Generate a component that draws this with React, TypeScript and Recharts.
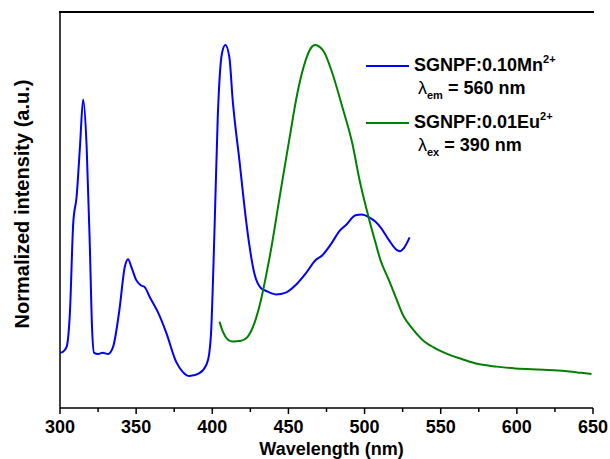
import React from 'react';
import { LineChart, Line, XAxis, YAxis, Legend } from 'recharts';

// excitation spectrum (monitored at 560 nm)
const mnWavelength = [
  300, 302, 304.4, 306.5, 308.7, 310.9, 313.1, 315.2, 317.5, 319.6, 321.1, 322.4, 325.1, 328, 331.6,
  334.9, 339, 342.5, 344.7, 346.9, 350, 353, 355.6, 358.9, 364.3, 369.8, 376.3, 380.7, 385, 391.6,
  396, 398, 399.2, 401.4, 403.6, 406.4, 408.6, 411.2, 413.4, 417.8, 422.1, 424.3, 427.6, 432, 435.2,
  441.8, 448.3, 454.8, 461.4, 467.9, 472.3, 478.8, 483.2, 488, 494.1, 498, 502.8, 507.2, 511, 515.9,
  521.3, 523.5, 525.7, 529.6,
];
const mnIntensity = [
  0.152, 0.155, 0.169, 0.262, 0.51, 0.582, 0.719, 0.85, 0.719, 0.444, 0.215, 0.152, 0.149, 0.152, 0.149,
  0.169, 0.27, 0.388, 0.41, 0.388, 0.353, 0.338, 0.333, 0.306, 0.264, 0.207, 0.127, 0.099, 0.088, 0.096,
  0.118, 0.15, 0.207, 0.482, 0.802, 0.978, 1.0, 0.967, 0.848, 0.683, 0.52, 0.45, 0.371, 0.33, 0.323,
  0.313, 0.318, 0.339, 0.371, 0.408, 0.421, 0.457, 0.486, 0.505, 0.531, 0.533, 0.526, 0.513, 0.495, 0.463,
  0.435, 0.432, 0.44, 0.47,
];

// emission spectrum (excited at 390 nm)
const euWavelength = [
  404.7, 407, 410.1, 413.4, 418.9, 423.2, 427.6, 432, 435.2, 438.5, 445, 450.5, 455.9, 461.4, 464.5,
  467.5, 470.5, 473.4, 478.8, 485.4, 491.9, 496.7, 502.8, 507.2, 510.4, 515.9, 520.3, 525.7, 531.1,
  537.7, 545.3, 553, 563.8, 574.8, 586.7, 598.8, 609.7, 620.6, 631.5, 642.4, 649,
];
const euIntensity = [
  0.238, 0.21, 0.189, 0.183, 0.185, 0.196, 0.233, 0.298, 0.362, 0.435, 0.601, 0.738, 0.868, 0.959, 0.99,
  1.0, 0.995, 0.981, 0.923, 0.829, 0.73, 0.628, 0.523, 0.455, 0.408, 0.353, 0.307, 0.252, 0.22,
  0.189, 0.167, 0.151, 0.135, 0.121, 0.114, 0.109, 0.107, 0.105, 0.102, 0.097, 0.094,
];

const xTicks = [300, 325, 350, 375, 400, 425, 450, 475, 500, 525, 550, 575, 600, 625, 650];
const yMax = 1.091;

const seriesNames = ['SGNPF:0.10Mn', 'SGNPF:0.01Eu'];
const seriesSup = ['2+', '2+'];
const seriesSub = ['em', 'ex'];
const seriesNote = ['= 560 nm', '= 390 nm'];
const seriesColors = ['#0000ff', '#008000'];

const mnData = mnWavelength.map((wl, i) => ({ wl, v: mnIntensity[i] }));
const euData = euWavelength.map((wl, i) => ({ wl, v: euIntensity[i] }));

const FONT = '"Liberation Sans", Arial, sans-serif';

const XTick = (props: any) => {
  const { x, y, payload } = props;
  const major = payload.value % 50 === 0;
  return (
    <g>
      <line x1={x} x2={x} y1={y} y2={y + (major ? 6 : 4)} stroke="#000" strokeWidth={1.5} />
      {major && (
        <text x={x} y={y + 25} textAnchor="middle" fontFamily={FONT} fontWeight="bold" fontSize={18} fill="#000">
          {payload.value}
        </text>
      )}
    </g>
  );
};

const LegendBox = () => (
  <div style={{ fontFamily: FONT, fontWeight: 'bold', fontSize: 18, color: '#000' }}>
    {seriesNames.map((name, i) => (
      <div key={name} style={{ height: 57 }}>
        <div style={{ display: 'flex', alignItems: 'center', height: 22, lineHeight: '22px' }}>
          <div style={{ width: 43, height: 2, background: seriesColors[i], marginRight: 5 }} />
          <span>
            {name}
            <span style={{ fontSize: 11, position: 'relative', top: -8 }}>{seriesSup[i]}</span>
          </span>
        </div>
        <div style={{ paddingLeft: 52, height: 35, lineHeight: '22px' }}>
          <span style={{ fontWeight: 'normal' }}>λ</span>
          <span style={{ fontSize: 11, position: 'relative', top: 5 }}>{seriesSub[i]}</span> {seriesNote[i]}
        </div>
      </div>
    ))}
  </div>
);

const axisStyle = { stroke: '#000', strokeWidth: 1.5 };

export default function App() {
  return (
    <div style={{ position: 'absolute', left: 0, top: 0, width: 610, height: 459, background: '#fff' }}>
      <LineChart width={610} height={459} margin={{ top: 0, right: 17, bottom: 0, left: 0 }}>
        <XAxis
          dataKey="wl"
          type="number"
          domain={[300, 650]}
          ticks={xTicks}
          interval={0}
          height={51}
          tickSize={0}
          tickMargin={0}
          tickLine={false}
          axisLine={axisStyle}
          tick={<XTick />}
          allowDataOverflow
          label={{
            value: 'Wavelength (nm)',
            position: 'insideBottom',
            offset: 4,
            dx: 5,
            fontFamily: FONT,
            fontWeight: 'bold',
            fontSize: 18,
            fill: '#000',
          }}
        />
        <XAxis
          xAxisId="top"
          orientation="top"
          type="number"
          domain={[300, 650]}
          ticks={xTicks}
          height={12}
          tick={false}
          tickLine={false}
          axisLine={axisStyle}
          allowDataOverflow
        />
        <YAxis
          type="number"
          domain={[0, yMax]}
          width={60}
          tick={false}
          tickLine={false}
          axisLine={axisStyle}
          allowDataOverflow
          label={{
            value: 'Normalized intensity (a.u.)',
            angle: -90,
            position: 'center',
            dx: -8,
            dy: -6,
            fontFamily: FONT,
            fontWeight: 'bold',
            fontSize: 20,
            fill: '#000',
          }}
        />
        <YAxis yAxisId="right" orientation="right" type="number" domain={[0, 1]} width={0} tick={false} tickLine={false} axisLine={axisStyle} />
        <Legend
          layout="vertical"
          align="center"
          verticalAlign="middle"
          content={<LegendBox />}
          wrapperStyle={{ left: 366, top: 55, width: 230 }}
        />
        <Line data={mnData} dataKey="v" type="monotone" stroke={seriesColors[0]} strokeWidth={2} dot={false} isAnimationActive={false} />
        <Line data={euData} dataKey="v" type="monotone" stroke={seriesColors[1]} strokeWidth={2} dot={false} isAnimationActive={false} />
      </LineChart>
      {/* top edge of the frame */}
      <div style={{ position: 'absolute', left: 59, top: 11, width: 535, height: 2, background: '#000', zIndex: 5 }} />
    </div>
  );
}
